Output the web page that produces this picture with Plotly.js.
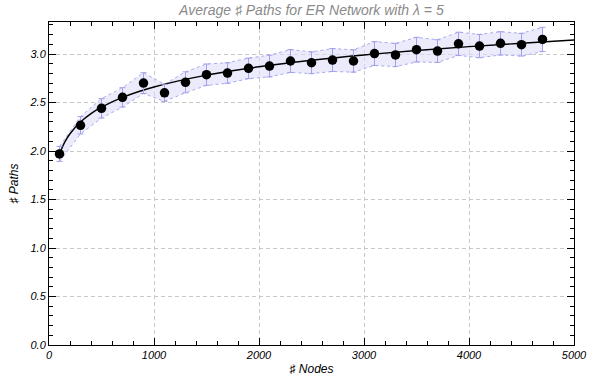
<!DOCTYPE html>
<html>
<head>
<meta charset="utf-8">
<script src="https://cdn.plot.ly/plotly-3.0.1.min.js"></script>
<style>html,body{margin:0;padding:0;background:#fff}#chart{width:592px;height:378px}</style>
</head>
<body>
<div id="chart"></div>
<script>
// Measured data
const nodes = [100,300,500,700,900,1100,1300,1500,1700,1900,2100,2300,2500,2700,2900,3100,3300,3500,3700,3900,4100,4300,4500,4700];
const avgPaths = [1.97,2.265,2.44,2.553,2.70,2.60,2.708,2.787,2.804,2.852,2.876,2.928,2.91,2.938,2.928,3.005,2.99,3.045,3.03,3.105,3.082,3.11,3.096,3.15];
const errs = [0.077,0.09,0.10,0.10,0.107,0.088,0.108,0.11,0.106,0.106,0.112,0.118,0.112,0.118,0.115,0.123,0.12,0.127,0.117,0.12,0.12,0.12,0.117,0.125];
// Fitted curve
const fitX = [100,150,200,300,400,500,700,1000,1500,2000,2500,3000,3500,4000,4500,5000];
const fitY = [1.970,2.091,2.178,2.299,2.386,2.452,2.553,2.660,2.782,2.868,2.935,2.990,3.036,3.076,3.111,3.144];
const xTicks = [0,1000,2000,3000,4000,5000];
const yTicks = [0,0.5,1.0,1.5,2.0,2.5,3.0];

const upper = avgPaths.map((v,i)=>v+errs[i]);
const lower = avgPaths.map((v,i)=>v-errs[i]);
const bandLine = {color:'rgb(170,170,238)', width:1, dash:'dot'};

const traces = [
  {x:nodes, y:upper, mode:'lines', line:bandLine, hoverinfo:'skip'},
  {x:nodes, y:lower, mode:'lines', line:bandLine, fill:'tonexty', fillcolor:'rgba(222,222,250,0.6)', hoverinfo:'skip'},
  {x:fitX, y:fitY, mode:'lines', line:{color:'#000', width:1.4, shape:'spline'}},
  {x:nodes, y:avgPaths, mode:'markers', marker:{color:'#000', size:9.5},
   error_y:{type:'data', array:errs, visible:true, color:'rgb(160,160,235)', thickness:1, width:3}}
];

const tickFont = {family:'"Liberation Sans", Arial, sans-serif', size:11, color:'#000'};
const axisCommon = {
  showline:true, linecolor:'#000', linewidth:1, mirror:'allticks',
  ticks:'inside', ticklen:7, tickcolor:'#000', tickwidth:1,
  showgrid:true, gridcolor:'#c8c8c8', griddash:'4px,3px', gridwidth:1,
  zeroline:false, tickfont:tickFont
};

const layout = {
  width:592, height:378,
  margin:{l:49, r:18, t:22, b:33},
  paper_bgcolor:'#fff', plot_bgcolor:'#fff',
  showlegend:false,
  title:{text:'<i>Average ♯ Paths for ER Network with λ = 5</i>', font:{family:'"Liberation Sans", Arial, sans-serif', size:14, color:'#8a8a8a'}, x:0.526, xanchor:'center', y:0.972, yanchor:'middle'},
  xaxis:Object.assign({}, axisCommon, {
    range:[0,5000], tickvals:xTicks, ticktext:xTicks.map(v=>'<i>'+v+'</i>'),
    minor:{dtick:200, ticklen:4, ticks:'inside', tickcolor:'#000', showgrid:false},
    title:{text:'<i>♯ Nodes</i>', font:{family:'"Liberation Sans", Arial, sans-serif', size:12, color:'#000'}, standoff:4}
  }),
  yaxis:Object.assign({}, axisCommon, {
    range:[0,3.33], tickvals:yTicks, ticktext:yTicks.map(v=>'<i>'+v.toFixed(1)+'</i>'),
    minor:{dtick:0.1, ticklen:4, ticks:'inside', tickcolor:'#000', showgrid:false},
    title:{text:'<i>♯ Paths</i>', font:{family:'"Liberation Sans", Arial, sans-serif', size:12, color:'#000'}, standoff:8}
  })
};

Plotly.newPlot('chart', traces, layout, {staticPlot:true, displayModeBar:false});
</script>
</body>
</html>
